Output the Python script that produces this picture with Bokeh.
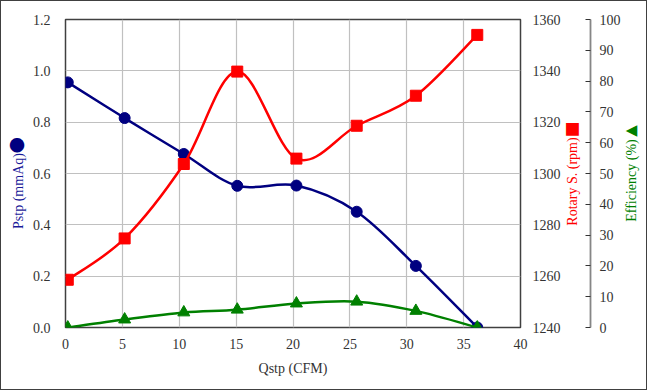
import math
from bokeh.plotting import figure
from bokeh.layouts import row
from bokeh.models import Range1d, LinearAxis, FixedTicker, NumeralTickFormatter, Label
from bokeh.embed import file_html
from bokeh.resources import INLINE

# ---- data ----
qstp = [0.2, 5.2, 10.4, 15.1, 20.3, 25.6, 30.8, 36.2]          # Qstp (CFM)
pstp = [0.955, 0.816, 0.676, 0.552, 0.553, 0.451, 0.240, 0.0]  # Pstp (mmAq)
rotary = [1258.6, 1274.7, 1303.7, 1339.7, 1305.8, 1318.6, 1330.3, 1354.0]  # rpm
efficiency = [0.0, 2.6, 4.9, 5.8, 7.8, 8.4, 5.4, 0.0]          # %

x_ticks = [0, 5, 10, 15, 20, 25, 30, 35, 40]
pstp_ticks = [0.0, 0.2, 0.4, 0.6, 0.8, 1.0, 1.2]
rpm_ticks = [1240, 1260, 1280, 1300, 1320, 1340, 1360]
eff_ticks = [0, 10, 20, 30, 40, 50, 60, 70, 80, 90, 100]

x_title = "Qstp (CFM)"
pstp_title = "Pstp (mmAq)"
rpm_title = "Rotary S. (rpm)"
eff_title = "Efficiency (%)"
pstp_symbol = "\u25cf"
rpm_symbol = "\u25a0"
eff_symbol = "\u25c0"

FONT = "Liberation Serif"
SYM_FONT = "Noto Sans CJK TC"
FS = "14px"
TICK_COLOR = "#333333"

NAVY = "#000080"
RED = "#ff0000"
GREEN = "#008000"

H = 388
TOP, BOTTOM = 18, 62


def smooth(xs, ys):
    """Catmull-Rom style cubic Bezier segments through the data points."""
    n = len(xs)
    out = dict(x0=[], y0=[], x1=[], y1=[], cx0=[], cy0=[], cx1=[], cy1=[])
    for i in range(n - 1):
        a = i - 1 if i > 0 else i
        d = i + 2 if i + 2 < n else i + 1
        out["x0"].append(xs[i]); out["y0"].append(ys[i])
        out["x1"].append(xs[i + 1]); out["y1"].append(ys[i + 1])
        out["cx0"].append(xs[i] + (xs[i + 1] - xs[a]) / 6.0)
        out["cy0"].append(ys[i] + (ys[i + 1] - ys[a]) / 6.0)
        out["cx1"].append(xs[i + 1] - (xs[d] - xs[i]) / 6.0)
        out["cy1"].append(ys[i + 1] - (ys[d] - ys[i]) / 6.0)
    return out


def style_axis(ax):
    ax.major_tick_out = 0
    ax.major_tick_in = 0
    ax.minor_tick_out = 0
    ax.minor_tick_in = 0
    ax.axis_line_color = None
    ax.major_label_text_font = FONT
    ax.major_label_text_font_size = FS
    ax.major_label_text_color = TICK_COLOR
    ax.axis_label_text_font = FONT
    ax.axis_label_text_font_size = FS
    ax.axis_label_text_font_style = "normal"


def side_fig(width, right=0):
    f = figure(width=width, height=H, x_range=Range1d(0, 1), y_range=Range1d(0, 1),
               output_backend="svg", toolbar_location=None,
               x_axis_location=None, y_axis_location=None,
               min_border_left=0, min_border_right=right,
               min_border_top=TOP, min_border_bottom=BOTTOM,
               background_fill_color="white", border_fill_color="white")
    f.outline_line_color = None
    f.grid.visible = False
    return f


def title_label(f, txt, x, y, col):
    f.add_layout(Label(x=x, y=y, x_units="screen", y_units="screen", text=txt,
                       angle=math.pi / 2, text_align="center", text_baseline="middle",
                       text_font=FONT, text_font_size=FS, text_color=col))


def symbol_label(f, txt, x, y, col, font=SYM_FONT, size="16px", angle=0.0):
    f.add_layout(Label(x=x, y=y, x_units="screen", y_units="screen", text=txt,
                       angle=angle, text_align="center", text_baseline="middle",
                       text_font=font, text_font_size=size, text_color=col))


# ---------- left strip: Pstp title ----------
p0 = side_fig(28)
title_label(p0, pstp_title, 17, 136.5, "#1a1a99")
symbol_label(p0, pstp_symbol, 15.5, 183.5, NAVY)

# ---------- main plot ----------
p = figure(width=534, height=H,
           x_range=Range1d(0, 40), y_range=Range1d(0, 1.2),
           output_backend="svg", toolbar_location=None,
           min_border_left=35, min_border_right=41,
           min_border_top=TOP, min_border_bottom=BOTTOM,
           background_fill_color="white", border_fill_color="white")
p.extra_y_ranges = {"rpm": Range1d(1240, 1360), "eff": Range1d(0, 100)}
p.outline_line_color = "#404040"
p.outline_line_width = 1.5

p.xgrid.ticker = FixedTicker(ticks=x_ticks)
p.ygrid.ticker = FixedTicker(ticks=pstp_ticks)
for g in (p.xgrid, p.ygrid):
    g.grid_line_color = "#c0c0c0"
    g.grid_line_width = 1.2

xa = p.xaxis[0]
style_axis(xa)
xa.ticker = FixedTicker(ticks=x_ticks)
xa.major_label_standoff = 11
xa.axis_label = x_title
xa.axis_label_standoff = 9
xa.axis_label_text_color = "#333333"

ya = p.yaxis[0]
style_axis(ya)
ya.ticker = FixedTicker(ticks=pstp_ticks)
ya.formatter = NumeralTickFormatter(format="0.0")
ya.major_label_standoff = 15

rpm_axis = LinearAxis(y_range_name="rpm", ticker=FixedTicker(ticks=rpm_ticks))
style_axis(rpm_axis)
rpm_axis.major_label_standoff = 12
p.add_layout(rpm_axis, "right")

s = smooth(qstp, pstp)
p.bezier(x0="x0", y0="y0", x1="x1", y1="y1", cx0="cx0", cy0="cy0", cx1="cx1", cy1="cy1",
         source=s, line_color=NAVY, line_width=2.5)
p.scatter(qstp, pstp, marker="circle", size=11, fill_color=NAVY, line_color=NAVY)

s = smooth(qstp, rotary)
p.bezier(x0="x0", y0="y0", x1="x1", y1="y1", cx0="cx0", cy0="cy0", cx1="cx1", cy1="cy1",
         source=s, line_color=RED, line_width=2.5, y_range_name="rpm")
p.scatter(qstp, rotary, marker="square", size=11, fill_color=RED, line_color=RED,
          y_range_name="rpm")

s = smooth(qstp, efficiency)
p.bezier(x0="x0", y0="y0", x1="x1", y1="y1", cx0="cx0", cy0="cy0", cx1="cx1", cy1="cy1",
         source=s, line_color=GREEN, line_width=2.5, y_range_name="eff")
p.scatter(qstp, efficiency, marker="triangle", size=12, fill_color=GREEN, line_color=GREEN,
          y_range_name="eff")

# ---------- strip with rotary title and efficiency axis ----------
p2 = side_fig(60, right=30)
title_label(p2, rpm_title, 9, 146, RED)
symbol_label(p2, rpm_symbol, 9, 200, RED)
p2.extra_y_ranges = {"eff": Range1d(0, 100)}
eff_axis = LinearAxis(y_range_name="eff", ticker=FixedTicker(ticks=eff_ticks))
style_axis(eff_axis)
eff_axis.axis_line_color = "#868686"
eff_axis.axis_line_width = 1.8
eff_axis.major_tick_in = 5
eff_axis.major_tick_line_color = "#333333"
eff_axis.major_label_standoff = 9
p2.add_layout(eff_axis, "right")

# ---------- right strip: efficiency title ----------
p3 = side_fig(23)
title_label(p3, eff_title, 7.5, 147, GREEN)
symbol_label(p3, eff_symbol, 8, 198, GREEN, font="DejaVu Sans", size="15px")

layout = row(p0, p, p2, p3, spacing=0,
             styles={"border": "1px solid #404040", "background-color": "white"})

open("out.html", "w").write(file_html(layout, INLINE))
